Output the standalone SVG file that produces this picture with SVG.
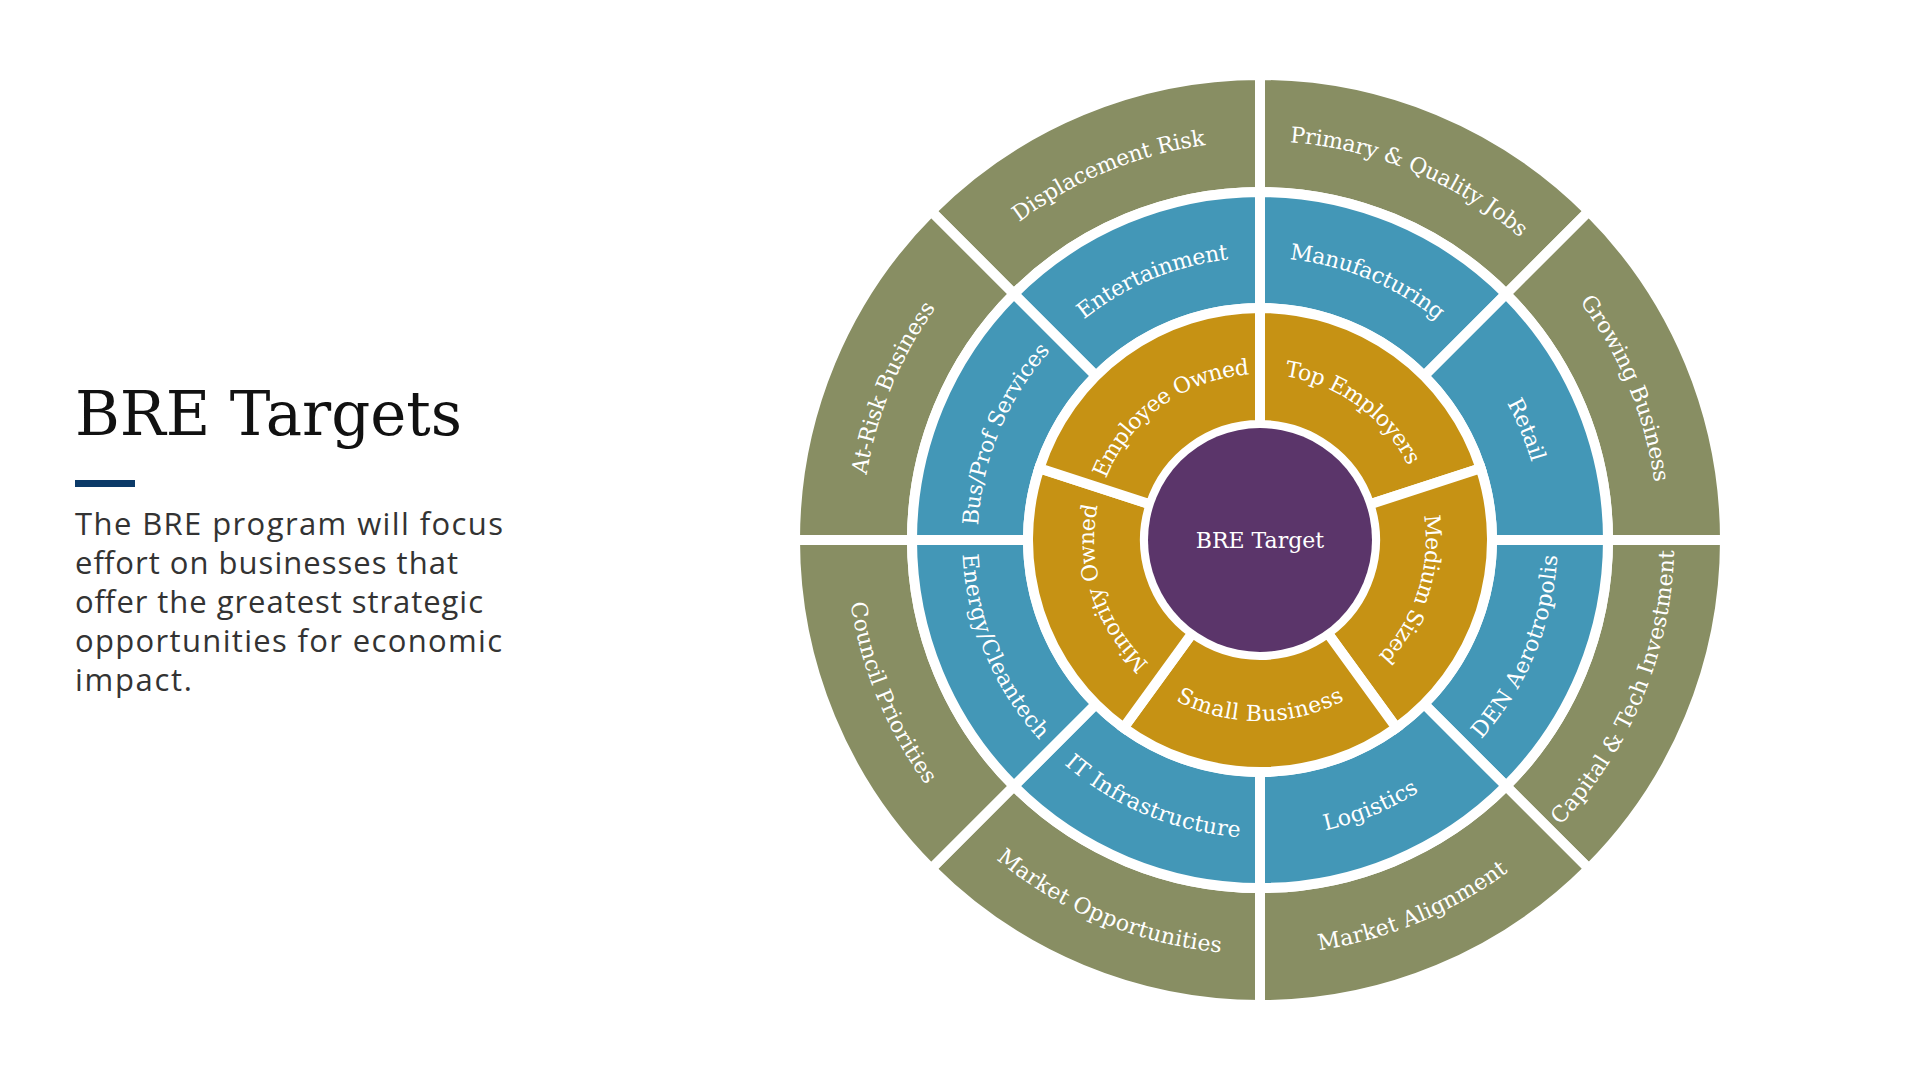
<svg xmlns="http://www.w3.org/2000/svg" xmlns:xlink="http://www.w3.org/1999/xlink" width="1920" height="1080" viewBox="0 0 1920 1080">
<style>
.seg{stroke:#fff;stroke-width:10;stroke-linejoin:miter}
.olive{fill:#888E63}
.blue{fill:#4397B7}
.gold{fill:#C69214}
.purple{fill:#5B356A}
.lbl{font-family:"Roboto Slab","DejaVu Serif",serif;font-size:22px;fill:#fff}
.title{font-family:"Roboto Slab","DejaVu Serif",serif;font-size:61px;fill:#111}
.body{font-family:"Source Sans Pro","Open Sans","Noto Sans",sans-serif;font-size:31px;fill:#333}
</style>
<defs>
<path id="t-o1" d="M972.56,252.56 A406.5,406.5 0 0 1 1260,133.5"/>
<path id="t-o2" d="M1260,133.5 A406.5,406.5 0 0 1 1547.44,252.56"/>
<path id="t-o3" d="M1547.44,252.56 A406.5,406.5 0 0 1 1666.5,540"/>
<path id="t-o4" d="M1547.44,827.44 A406.5,406.5 0 0 0 1666.5,540"/>
<path id="t-o5" d="M1260,946.5 A406.5,406.5 0 0 0 1547.44,827.44"/>
<path id="t-o6" d="M972.56,827.44 A406.5,406.5 0 0 0 1260,946.5"/>
<path id="t-o7" d="M853.5,540 A406.5,406.5 0 0 0 972.56,827.44"/>
<path id="t-o8" d="M853.5,540 A406.5,406.5 0 0 1 972.56,252.56"/>
<path id="t-b1" d="M1054.94,334.94 A290,290 0 0 1 1260,250"/>
<path id="t-b2" d="M1260,250 A290,290 0 0 1 1465.06,334.94"/>
<path id="t-b3" d="M1465.06,334.94 A290,290 0 0 1 1550,540"/>
<path id="t-b4" d="M1465.06,745.06 A290,290 0 0 0 1550,540"/>
<path id="t-b5" d="M1260,830 A290,290 0 0 0 1465.06,745.06"/>
<path id="t-b6" d="M1054.94,745.06 A290,290 0 0 0 1260,830"/>
<path id="t-b7" d="M970,540 A290,290 0 0 0 1054.94,745.06"/>
<path id="t-b8" d="M970,540 A290,290 0 0 1 1054.94,334.94"/>
<path id="t-g1" d="M1260,366.5 A173.5,173.5 0 0 1 1425.01,486.39"/>
<path id="t-g2" d="M1425.01,486.39 A173.5,173.5 0 0 1 1361.98,680.36"/>
<path id="t-g3" d="M1158.02,680.36 A173.5,173.5 0 0 0 1361.98,680.36"/>
<path id="t-g4" d="M1158.02,680.36 A173.5,173.5 0 0 1 1094.99,486.39"/>
<path id="t-g5" d="M1094.99,486.39 A173.5,173.5 0 0 1 1260,366.5"/>
</defs>
<rect width="1920" height="1080" fill="#fff"/>

<g id="title-block">
<text class="title" x="75" y="435">BRE Targets</text>
<rect x="75" y="480" width="60" height="7" fill="#0B3A68"/>
<text class="body" x="75" y="535" textLength="428">The BRE program will focus</text>
<text class="body" x="75" y="574" textLength="383">effort on businesses that</text>
<text class="body" x="75" y="613" textLength="408">offer the greatest strategic</text>
<text class="body" x="75" y="652" textLength="427">opportunities for economic</text>
<text class="body" x="75" y="691" textLength="117">impact.</text>
</g>

<g id="connectors"></g>

<!-- Outer olive ring -->
<g id="displacement-risk"><path class="seg olive" d="M1260,75 A465,465 0 0 0 931.19,211.19 L1013.93,293.93 A348,348 0 0 1 1260,192 Z"/><text class="lbl" dy="0.35em"><textPath xlink:href="#t-o1" href="#t-o1" startOffset="50%" text-anchor="middle">Displacement Risk</textPath></text></g>
<g id="primary-quality-jobs"><path class="seg olive" d="M1588.81,211.19 A465,465 0 0 0 1260,75 L1260,192 A348,348 0 0 1 1506.07,293.93 Z"/><text class="lbl" dy="0.35em"><textPath xlink:href="#t-o2" href="#t-o2" startOffset="50%" text-anchor="middle">Primary &amp; Quality Jobs</textPath></text></g>
<g id="growing-business"><path class="seg olive" d="M1725,540 A465,465 0 0 0 1588.81,211.19 L1506.07,293.93 A348,348 0 0 1 1608,540 Z"/><text class="lbl" dy="0.35em"><textPath xlink:href="#t-o3" href="#t-o3" startOffset="50%" text-anchor="middle">Growing Business</textPath></text></g>
<g id="capital-tech-investment"><path class="seg olive" d="M1588.81,868.81 A465,465 0 0 0 1725,540 L1608,540 A348,348 0 0 1 1506.07,786.07 Z"/><text class="lbl" dy="0.35em"><textPath xlink:href="#t-o4" href="#t-o4" startOffset="50%" text-anchor="middle">Capital &amp; Tech Investment</textPath></text></g>
<g id="market-alignment"><path class="seg olive" d="M1260,1005 A465,465 0 0 0 1588.81,868.81 L1506.07,786.07 A348,348 0 0 1 1260,888 Z"/><text class="lbl" dy="0.35em"><textPath xlink:href="#t-o5" href="#t-o5" startOffset="50%" text-anchor="middle">Market Alignment</textPath></text></g>
<g id="market-opportunities"><path class="seg olive" d="M931.19,868.81 A465,465 0 0 0 1260,1005 L1260,888 A348,348 0 0 1 1013.93,786.07 Z"/><text class="lbl" dy="0.35em"><textPath xlink:href="#t-o6" href="#t-o6" startOffset="50%" text-anchor="middle">Market Opportunities</textPath></text></g>
<g id="council-priorities"><path class="seg olive" d="M795,540 A465,465 0 0 0 931.19,868.81 L1013.93,786.07 A348,348 0 0 1 912,540 Z"/><text class="lbl" dy="0.35em"><textPath xlink:href="#t-o7" href="#t-o7" startOffset="50%" text-anchor="middle">Council Priorities</textPath></text></g>
<g id="at-risk-business"><path class="seg olive" d="M931.19,211.19 A465,465 0 0 0 795,540 L912,540 A348,348 0 0 1 1013.93,293.93 Z"/><text class="lbl" dy="0.35em"><textPath xlink:href="#t-o8" href="#t-o8" startOffset="50%" text-anchor="middle">At-Risk Business</textPath></text></g>

<!-- Middle blue ring -->
<g id="entertainment"><path class="seg blue" d="M1260,192 A348,348 0 0 0 1013.93,293.93 L1095.95,375.95 A232,232 0 0 1 1260,308 Z"/><text class="lbl" dy="0.35em"><textPath xlink:href="#t-b1" href="#t-b1" startOffset="50%" text-anchor="middle">Entertainment</textPath></text></g>
<g id="manufacturing"><path class="seg blue" d="M1506.07,293.93 A348,348 0 0 0 1260,192 L1260,308 A232,232 0 0 1 1424.05,375.95 Z"/><text class="lbl" dy="0.35em"><textPath xlink:href="#t-b2" href="#t-b2" startOffset="50%" text-anchor="middle">Manufacturing</textPath></text></g>
<g id="retail"><path class="seg blue" d="M1608,540 A348,348 0 0 0 1506.07,293.93 L1424.05,375.95 A232,232 0 0 1 1492,540 Z"/><text class="lbl" dy="0.35em"><textPath xlink:href="#t-b3" href="#t-b3" startOffset="50%" text-anchor="middle">Retail</textPath></text></g>
<g id="den-aerotropolis"><path class="seg blue" d="M1506.07,786.07 A348,348 0 0 0 1608,540 L1492,540 A232,232 0 0 1 1424.05,704.05 Z"/><text class="lbl" dy="0.35em"><textPath xlink:href="#t-b4" href="#t-b4" startOffset="50%" text-anchor="middle">DEN Aerotropolis</textPath></text></g>
<g id="logistics"><path class="seg blue" d="M1260,888 A348,348 0 0 0 1506.07,786.07 L1424.05,704.05 A232,232 0 0 1 1260,772 Z"/><text class="lbl" dy="0.35em"><textPath xlink:href="#t-b5" href="#t-b5" startOffset="50%" text-anchor="middle">Logistics</textPath></text></g>
<g id="it-infrastructure"><path class="seg blue" d="M1013.93,786.07 A348,348 0 0 0 1260,888 L1260,772 A232,232 0 0 1 1095.95,704.05 Z"/><text class="lbl" dy="0.35em"><textPath xlink:href="#t-b6" href="#t-b6" startOffset="50%" text-anchor="middle">IT Infrastructure</textPath></text></g>
<g id="energy-cleantech"><path class="seg blue" d="M912,540 A348,348 0 0 0 1013.93,786.07 L1095.95,704.05 A232,232 0 0 1 1028,540 Z"/><text class="lbl" dy="0.35em"><textPath xlink:href="#t-b7" href="#t-b7" startOffset="50%" text-anchor="middle">Energy/Cleantech</textPath></text></g>
<g id="bus-prof-services"><path class="seg blue" d="M1013.93,293.93 A348,348 0 0 0 912,540 L1028,540 A232,232 0 0 1 1095.95,375.95 Z"/><text class="lbl" dy="0.35em"><textPath xlink:href="#t-b8" href="#t-b8" startOffset="50%" text-anchor="middle">Bus/Prof Services</textPath></text></g>

<!-- Inner gold ring -->
<g id="top-employers"><path class="seg gold" d="M1480.65,468.31 A232,232 0 0 0 1260,308 L1260,425 A115,115 0 0 1 1369.37,504.46 Z"/><text class="lbl" dy="0.35em"><textPath xlink:href="#t-g1" href="#t-g1" startOffset="50%" text-anchor="middle">Top Employers</textPath></text></g>
<g id="medium-sized"><path class="seg gold" d="M1396.37,727.69 A232,232 0 0 0 1480.65,468.31 L1369.37,504.46 A115,115 0 0 1 1327.6,633.04 Z"/><text class="lbl" dy="0.35em"><textPath xlink:href="#t-g2" href="#t-g2" startOffset="50%" text-anchor="middle">Medium Sized</textPath></text></g>
<g id="small-business"><path class="seg gold" d="M1123.63,727.69 A232,232 0 0 0 1396.37,727.69 L1327.6,633.04 A115,115 0 0 1 1192.4,633.04 Z"/><text class="lbl" dy="0.35em"><textPath xlink:href="#t-g3" href="#t-g3" startOffset="50%" text-anchor="middle">Small Business</textPath></text></g>
<g id="minority-owned"><path class="seg gold" d="M1039.35,468.31 A232,232 0 0 0 1123.63,727.69 L1192.4,633.04 A115,115 0 0 1 1150.63,504.46 Z"/><text class="lbl" dy="0.35em"><textPath xlink:href="#t-g4" href="#t-g4" startOffset="50%" text-anchor="middle">Minority Owned</textPath></text></g>
<g id="employee-owned"><path class="seg gold" d="M1260,308 A232,232 0 0 0 1039.35,468.31 L1150.63,504.46 A115,115 0 0 1 1260,425 Z"/><text class="lbl" dy="0.35em"><textPath xlink:href="#t-g5" href="#t-g5" startOffset="50%" text-anchor="middle">Employee Owned</textPath></text></g>

<!-- Center -->
<g id="bre-target"><circle class="purple" cx="1260" cy="540" r="112"/><text class="lbl" x="1260" y="548" text-anchor="middle">BRE Target</text></g>
</svg>
